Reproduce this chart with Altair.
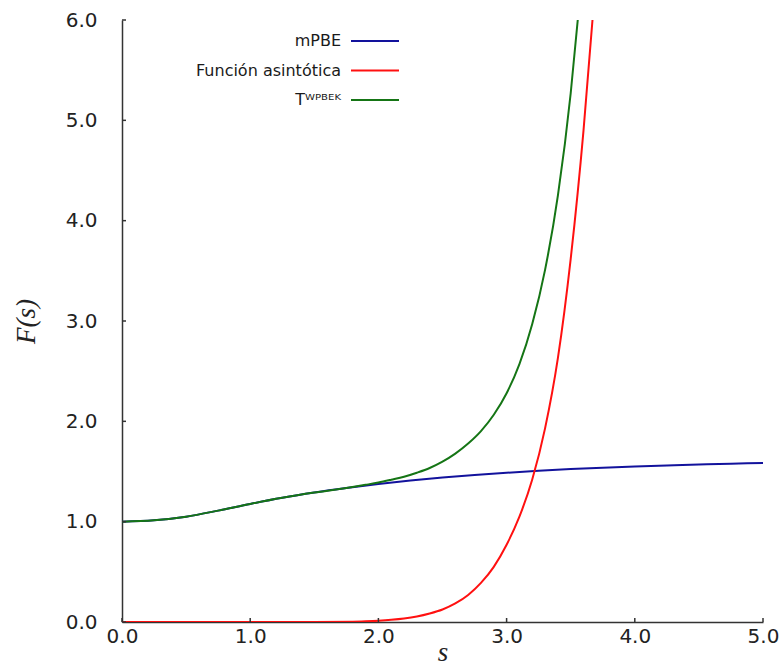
import altair as alt
import pandas as pd

# ---- data ----
s_mpbe = [0.0, 0.25, 0.5, 0.75, 1.0, 1.25, 1.5, 1.75, 2.0, 2.25, 2.5, 2.75,
          3.0, 3.25, 3.5, 3.75, 4.0, 4.25, 4.5, 4.75, 5.0]
f_mpbe = [1.000, 1.014, 1.050, 1.110, 1.177, 1.238, 1.290, 1.335, 1.375, 1.410,
          1.440, 1.465, 1.487, 1.507, 1.524, 1.538, 1.550, 1.560, 1.569, 1.577, 1.585]

s_asym = [0.0, 1.0, 1.5, 1.8, 1.9, 2.0, 2.1, 2.2, 2.3, 2.4, 2.5, 2.6, 2.7, 2.8,
          2.9, 3.0, 3.1, 3.2, 3.3, 3.4, 3.5, 3.6, 3.67]
f_asym = [0.0, 0.0, 0.0, 0.003, 0.007, 0.013, 0.022, 0.035, 0.055, 0.085, 0.125,
          0.185, 0.27, 0.39, 0.55, 0.77, 1.05, 1.42, 1.93, 2.63, 3.62, 4.90, 6.0]

s_twpbek = [0.0, 0.25, 0.5, 0.75, 1.0, 1.25, 1.5, 1.75, 1.9, 2.0, 2.1, 2.2, 2.3,
            2.4, 2.5, 2.6, 2.7, 2.8, 2.9, 3.0, 3.1, 3.2, 3.3, 3.4, 3.5, 3.555]
f_twpbek = [1.000, 1.014, 1.050, 1.110, 1.177, 1.238, 1.290, 1.335, 1.367, 1.390,
            1.418, 1.448, 1.488, 1.535, 1.598, 1.678, 1.778, 1.902, 2.065, 2.280,
            2.570, 2.970, 3.510, 4.250, 5.270, 6.0]

series_labels = ["mPBE", "Función asintótica", "T\u1d42\u1d3e\u1d2e\u1d31\u1d37"]
series_colors = ["#12129c", "#ff1010", "#157515"]

x_ticks = [0.0, 1.0, 2.0, 3.0, 4.0, 5.0]
y_ticks = [0.0, 1.0, 2.0, 3.0, 4.0, 5.0, 6.0]

rows = []
for name, xs, ys in [(series_labels[0], s_mpbe, f_mpbe),
                     (series_labels[1], s_asym, f_asym),
                     (series_labels[2], s_twpbek, f_twpbek)]:
    for i, (a, b) in enumerate(zip(xs, ys)):
        rows.append({"serie": name, "s": a, "F": b, "idx": i})
df = pd.DataFrame(rows)

W, H = 641, 602
AXC = "#333333"

x_enc = alt.X("s:Q", scale=alt.Scale(domain=[0, 5], nice=False, zero=False),
              axis=alt.Axis(values=x_ticks, format=".1f", title="s"))
y_enc = alt.Y("F:Q", scale=alt.Scale(domain=[0, 6], nice=False, zero=False),
              axis=alt.Axis(values=y_ticks, format=".1f", title="F(s)"))

lines = alt.Chart(df).mark_line(strokeWidth=2, clip=True, interpolate="monotone").encode(
    x=x_enc,
    y=y_enc,
    color=alt.Color("serie:N",
                    scale=alt.Scale(domain=series_labels, range=series_colors),
                    legend=alt.Legend(title=None, orient="none", legendX=240,
                                      legendY=alt.ExprRef("8"),
                                      direction="vertical",
                                      symbolType="M-2,0H2", symbolStrokeWidth=2,
                                      symbolSize=576,
                                      rowPadding=alt.ExprRef("8.5"),
                                      labelAlign="right",
                                      labelOffset=alt.ExprRef("-47"),
                                      labelFont="DejaVu Sans", labelFontSize=16,
                                      labelColor="#1a1a1a", labelLimit=400)),
    order=alt.Order("idx:Q"),
)

xt = pd.DataFrame({"s": x_ticks})
yt = pd.DataFrame({"F": y_ticks})
xtick_layer = alt.Chart(xt).mark_rule(color=AXC, strokeWidth=1.5).encode(
    x=x_enc, y=alt.value(H), y2=alt.value(H - 4))
ytick_layer = alt.Chart(yt).mark_rule(color=AXC, strokeWidth=1.5).encode(
    y=y_enc, x=alt.value(0), x2=alt.value(4))

chart = alt.layer(lines, xtick_layer, ytick_layer).properties(
    width=W, height=H,
    autosize=alt.AutoSizeParams(type="none"),
    padding={"left": 122, "top": 20, "right": 19, "bottom": 43},
    background="white",
).configure_view(stroke=None).configure_axis(
    grid=False, ticks=False, domainColor=AXC, domainWidth=1.5,
    labelFont="DejaVu Sans", labelFontSize=20, labelColor="#222222",
    labelFlush=False, labelOverlap=False,
    titleFont="Liberation Serif", titleFontStyle="italic", titleFontWeight="normal",
    titleFontSize=27, titleColor="#222222",
).configure_axisX(labelPadding=4, titleY=38, titleBaseline="alphabetic").configure_axisY(
    labelPadding=25, titlePadding=25)

chart.save("out.html", embed_options={"renderer": "svg", "actions": False})
